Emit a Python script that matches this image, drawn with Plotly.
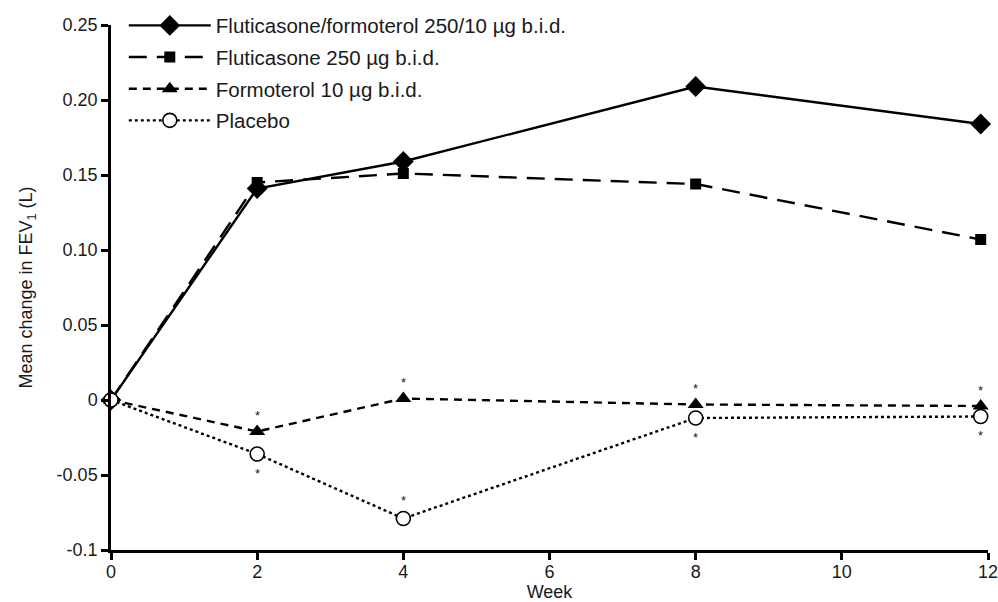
import plotly.graph_objects as go

weeks = [0, 2, 4, 8, 11.9]
ff_250_10 = [0.0, 0.141, 0.159, 0.209, 0.184]
fluticasone_250 = [0.0, 0.145, 0.151, 0.144, 0.107]
formoterol_10 = [0.0, -0.021, 0.001, -0.003, -0.004]
placebo = [0.0, -0.036, -0.079, -0.012, -0.011]

names = ["Fluticasone/formoterol 250/10 µg b.i.d.", "Fluticasone 250 µg b.i.d.",
         "Formoterol 10 µg b.i.d.", "Placebo"]

x_ticks = [0, 2, 4, 6, 8, 10, 12]
y_ticks = [0.25, 0.20, 0.15, 0.10, 0.05, 0, -0.05, -0.1]
y_ticktext = ["0.25", "0.20", "0.15", "0.10", "0.05", "0", "-0.05", "-0.1"]

# asterisk positions (point indices)
star_idx_formoterol = [1, 2, 3, 4]
star_idx_placebo_above = [2]
star_idx_placebo_below = [1, 3, 4]

FONT = "Liberation Sans, Arial, Helvetica, sans-serif"
TXT = "#1a1a1a"

fig = go.Figure()
styles = [
    (ff_250_10, "solid", dict(symbol="diamond", size=16, color="black")),
    (fluticasone_250, "18px,10px", dict(symbol="square", size=11, color="black")),
    (formoterol_10, "8px,6px", dict(symbol="triangle-up", size=14, color="black")),
    (placebo, "3px,3px", dict(symbol="circle", size=14, color="white", line=dict(color="black", width=1.6))),
]
for i, (vals, dash, mk) in enumerate(styles):
    fig.add_trace(go.Scatter(
        x=weeks, y=vals, name=names[i], mode="lines+markers",
        legendgroup=f"g{i}",
        line=dict(color="black", width=2.4, dash=dash),
        marker=mk, cliponaxis=False,
    ))

ann = []
sf = dict(size=13, color=TXT, family=FONT)
for j in star_idx_formoterol:
    ann.append(dict(x=weeks[j], y=formoterol_10[j], text="*", showarrow=False, yshift=16, font=sf))
for j in star_idx_placebo_above:
    ann.append(dict(x=weeks[j], y=placebo[j], text="*", showarrow=False, yshift=18, font=sf))
for j in star_idx_placebo_below:
    ann.append(dict(x=weeks[j], y=placebo[j], text="*", showarrow=False, yshift=-19, font=sf))

fig.update_layout(
    width=998, height=602,
    margin=dict(l=111, r=10, t=25, b=52, autoexpand=False),
    paper_bgcolor="white", plot_bgcolor="white",
    font=dict(family=FONT, size=18, color=TXT),
    showlegend=True,
    legend=dict(x=0.0146, y=1.037, xanchor="left", yanchor="top",
                font=dict(size=20.5, color=TXT), tracegroupgap=2,
                bgcolor="rgba(0,0,0,0)", itemwidth=82),
    annotations=ann,
    xaxis=dict(range=[0, 12], tickvals=x_ticks, showline=True, linecolor="black", linewidth=2.5,
               ticks="outside", ticklen=7, tickwidth=2.5, tickcolor="black", showgrid=False,
               zeroline=False, automargin=False, tickfont=dict(size=18, color=TXT),
               ticklabeloverflow="allow", ticklabelstandoff=-3,
               title=dict(text="Week", font=dict(size=18, color=TXT), standoff=8)),
    yaxis=dict(range=[-0.1, 0.25], tickvals=y_ticks, ticktext=y_ticktext, showline=True,
               linecolor="black", linewidth=2.5, ticks="outside", ticklen=7, tickwidth=2.5,
               tickcolor="black", showgrid=False, zeroline=False, automargin=False,
               tickfont=dict(size=18, color=TXT),
               title=dict(text="Mean change in FEV<sub>1</sub> (L)", font=dict(size=18, color=TXT),
                          standoff=20)),
)

# remove the page's default body margin so the 998x602 figure fills the window exactly
fig.write_html("out.html", config={"displayModeBar": False},
               post_script="document.body.style.margin='0';document.body.style.overflow='hidden';")
